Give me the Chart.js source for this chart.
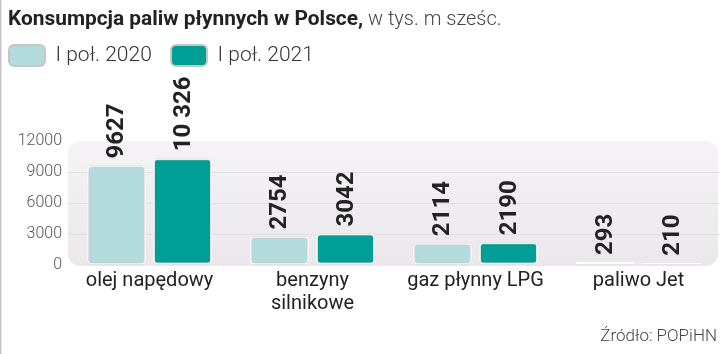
<!DOCTYPE html>
<html lang="pl">
<head>
<meta charset="utf-8">
<script src="https://cdn.jsdelivr.net/npm/chart.js@4.4.0/dist/chart.umd.min.js"></script>
<style>
  html, body { margin: 0; padding: 0; background: #fff; }
  #wrap { position: relative; width: 720px; height: 354px; }
</style>
</head>
<body>
<div id="wrap"><canvas id="fuelChart"></canvas></div>
<script>
// data
const categories = [['olej napędowy'], ['benzyny', 'silnikowe'], ['gaz płynny LPG'], ['paliwo Jet']];
const seriesNames = ['I poł. 2020', 'I poł. 2021'];
const values2020 = [9627, 2754, 2114, 293];
const values2021 = [10326, 3042, 2190, 210];
const yTicks = [0, 3000, 6000, 9000, 12000];

const colors = ['#b4dbdb', '#009e94'];
const FONT = 'Roboto, "Noto Sans", sans-serif';

// polish style: space as thousands separator only from 5 digits up
function formatValue(n) {
  const s = String(n);
  return n >= 10000 ? s.replace(/\B(?=(\d{3})+(?!\d))/g, ' ') : s;
}

const decor = {
  id: 'decor',
  beforeLayout(chart) {
    // push the plot down below the legend
    const legend = chart.legend;
    if (legend && !legend._patched) {
      const fit = legend.fit;
      legend.fit = function() { fit.call(this); this.height += 65; };
      legend._patched = true;
    }
  },
  beforeDraw(chart) {
    const { ctx, chartArea: a } = chart;
    ctx.save();
    const g = ctx.createLinearGradient(0, a.top, 0, a.bottom);
    g.addColorStop(0, '#f5f3f5');
    g.addColorStop(1, '#ebe7ec');
    ctx.fillStyle = g;
    ctx.beginPath();
    ctx.roundRect(a.left, a.top, a.right - 2 - a.left, a.bottom + 1 - a.top, 12);
    ctx.fill();
    // thin rule on the left edge
    ctx.fillStyle = '#c4c4c4';
    ctx.fillRect(0, 0, 1.5, chart.height);
    ctx.restore();
  },
  beforeDatasetsDraw(chart) {
    const ctx = chart.ctx;
    ctx.save();
    ctx.shadowColor = 'rgba(0,0,0,0.28)';
    ctx.shadowBlur = 3;
  },
  afterDatasetsDraw(chart) {
    const ctx = chart.ctx;
    ctx.restore();
    ctx.save();
    ctx.fillStyle = '#222';
    ctx.font = 'bold 24px ' + FONT;
    ctx.textAlign = 'left';
    ctx.textBaseline = 'middle';
    chart.data.datasets.forEach((ds, i) => {
      chart.getDatasetMeta(i).data.forEach((bar, j) => {
        ctx.save();
        ctx.translate(bar.x, bar.y - 7);
        ctx.rotate(-Math.PI / 2);
        ctx.fillText(formatValue(ds.data[j]), 0, 1);
        ctx.restore();
      });
    });
    ctx.restore();
  },
  afterDraw(chart) {
    const ctx = chart.ctx;
    ctx.save();
    ctx.textBaseline = 'alphabetic';
    ctx.textAlign = 'left';
    // title: bold part + light unit part
    const bold = 'Konsumpcja paliw płynnych w Polsce';
    ctx.font = 'bold 21px ' + FONT;
    const w = ctx.measureText(bold).width;
    const sx = Math.min(1, 350 / w);
    ctx.fillStyle = '#222';
    ctx.save();
    ctx.translate(8, 25);
    ctx.scale(sx, 1);
    ctx.fillText(bold, 0, 0);
    ctx.fillText(',', w, 0);
    ctx.restore();
    ctx.font = '300 20px ' + FONT;
    ctx.fillStyle = '#444';
    ctx.fillText('w tys. m sześc.', 8 + (w + 10) * sx, 25);
    // source
    ctx.font = '300 17px ' + FONT;
    ctx.textAlign = 'right';
    ctx.fillStyle = '#444';
    ctx.fillText('Źródło: POPiHN', 717, 341);
    ctx.restore();
  }
};

new Chart(document.getElementById('fuelChart'), {
  type: 'bar',
  data: {
    labels: categories,
    datasets: [
      { label: seriesNames[0], data: values2020, backgroundColor: colors[0] },
      { label: seriesNames[1], data: values2021, backgroundColor: colors[1] }
    ]
  },
  options: {
    responsive: true,
    maintainAspectRatio: false,
    animation: false,
    layout: { padding: { top: 36, left: 0, right: 0, bottom: 35 } },
    datasets: {
      bar: {
        categoryPercentage: 0.81,
        barPercentage: 0.895,
        borderColor: '#ffffff',
        borderWidth: 2,
        borderRadius: 4,
        borderSkipped: false
      }
    },
    plugins: {
      tooltip: { enabled: false },
      legend: {
        position: 'top',
        align: 'start',
        labels: {
          boxWidth: 36,
          boxHeight: 21,
          padding: 9,
          color: '#333',
          font: { family: FONT, size: 21, weight: '300' },
          generateLabels(chart) {
            return chart.data.datasets.map((ds, i) => ({
              text: ds.label + '  ',
              fillStyle: ds.backgroundColor,
              strokeStyle: '#c6c6c6',
              lineWidth: 2,
              borderRadius: 5,
              fontColor: '#333',
              datasetIndex: i,
              hidden: false
            }));
          }
        }
      }
    },
    scales: {
      x: {
        grid: { display: false, drawTicks: false },
        border: { display: false },
        ticks: {
          padding: 4,
          color: '#222',
          font: { family: FONT, size: 20, lineHeight: 1.15 }
        }
      },
      y: {
        min: 0,
        max: 12000,
        afterFit(scale) { scale.width = 68; },
        afterBuildTicks(scale) { scale.ticks = yTicks.map(v => ({ value: v })); },
        border: { display: false },
        grid: {
          drawTicks: false,
          color: ctx => (ctx.tick && (ctx.tick.value === 0 || ctx.tick.value === 12000)) ? 'rgba(0,0,0,0)' : '#e1dee3'
        },
        ticks: {
          padding: 6,
          color: '#555',
          font: { family: FONT, size: 16, weight: '300' },
          callback: v => String(v)
        }
      }
    }
  },
  plugins: [decor]
});
</script>
</body>
</html>
